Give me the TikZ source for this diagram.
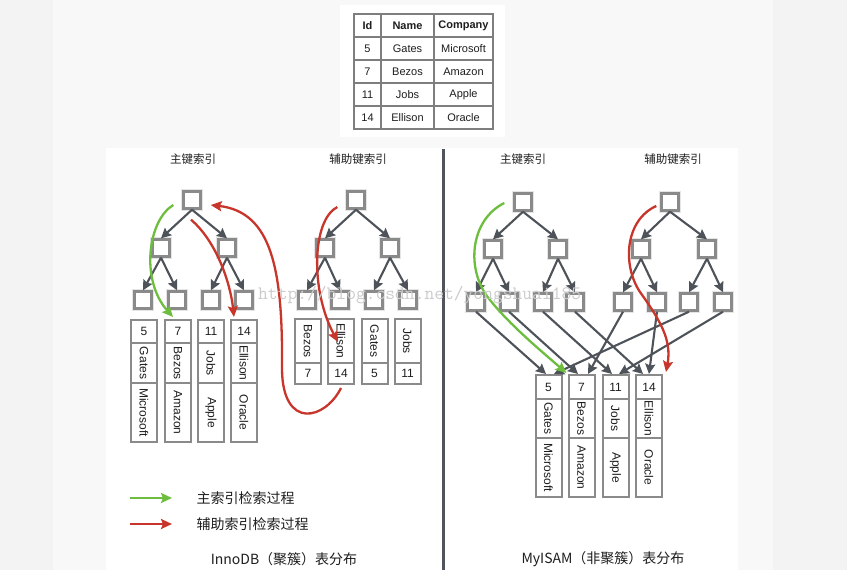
\documentclass[tikz,border=0pt]{standalone}
\usepackage{fontspec}
\setmainfont{Liberation Sans}
\newfontfamily\cjk{Noto Sans CJK SC}
\usetikzlibrary{arrows.meta,calc}
\definecolor{boxgray}{HTML}{8A8A8A}
\definecolor{tabgray}{HTML}{7E7E7E}
\definecolor{arrgray}{HTML}{4E535A}
\definecolor{mygreen}{HTML}{6DBE3E}
\definecolor{myred}{HTML}{C8362B}
\definecolor{txtc}{HTML}{1E1E1E}
\definecolor{bgA}{HTML}{F3F3F3}
\definecolor{bgB}{HTML}{F8F8F8}
\definecolor{divc}{HTML}{50555C}
\begin{document}
\begin{tikzpicture}[x=1pt,y=-1pt,
  tnode/.style={draw=boxgray,line width=2.4pt,fill=white,minimum size=17pt,inner sep=0pt,preaction={draw=black!10,line width=5pt}},
  tarrow/.style={draw=arrgray,line width=2.1pt,-{Stealth[length=10pt,width=10pt,inset=1.5pt]}},
  rcell/.style={draw=boxgray,line width=2pt,fill=white,inner sep=0pt,minimum width=26pt,text=txtc,font=\fontsize{12}{14}\selectfont},
  tcell/.style={draw=tabgray,line width=2pt,inner sep=0pt,minimum height=23pt,text=txtc,font=\fontsize{11}{13}\selectfont},
  garrow/.style={draw=mygreen,line width=2.3pt,-{Stealth[length=11pt,width=10pt,inset=2pt]}},
  rarrow/.style={draw=myred,line width=2.3pt,-{Stealth[length=11pt,width=10pt,inset=2pt]}},
  ttl/.style={font=\cjk\fontsize{11.5}{13}\selectfont,text=txtc},
  captxt/.style={font=\cjk\fontsize{14}{16}\selectfont,text=txtc}
]
\useasboundingbox (0,0) rectangle (847,570);
% background
\fill[bgA] (0,0) rectangle (847,570);
\fill[bgB] (53,0) rectangle (773,570);
\fill[white] (106,148) rectangle (738,570);
\fill[white] (340,5) rectangle (505,137);
\draw[divc,line width=3pt] (443,149) -- (443,570);

% table
\node[tcell,minimum width=27pt,font=\bfseries\fontsize{11}{13}\selectfont] (th1) at (367.5,25.5) {Id};
\node[tcell,minimum width=53pt,font=\bfseries\fontsize{11}{13}\selectfont] (th2) at (407.5,25.5) {Name};
\node[tcell,minimum width=59pt,font=\bfseries\fontsize{11}{13}\selectfont] (th3) at (463.5,25.5) {Company};
\foreach \a/\b/\c [count=\i] in {5/Gates/Microsoft,7/Bezos/Amazon,11/Jobs/Apple,14/Ellison/Oracle}{
  \node[tcell,minimum width=27pt] (tid\i) at (367.5,25.5+23*\i) {\a};
  \node[tcell,minimum width=53pt] (tnm\i) at (407.5,25.5+23*\i) {\b};
  \node[tcell,minimum width=59pt] (tco\i) at (463.5,25.5+23*\i) {\c};
}

% titles
\node[ttl] (t1) at (193,159) {主键索引};
\node[ttl] (t2) at (358,159) {辅助键索引};
\node[ttl] (t3) at (523,159) {主键索引};
\node[ttl] (t4) at (673,159) {辅助键索引};

% trees
\foreach \p/\rx/\ry/\ax/\bx/\my/\la/\lb/\lc/\ld/\ly in {
  pa/192/200/161/227/248/143/177/211/244/300,
  pb/356/200/325/390/248/307/340/374/408/300,
  pc/523/202/493/558/249/476/509/543/575/302,
  pd/670/202/641/707/249/623/657/689/723/302}{
  \node[tnode] (\p0) at (\rx,\ry) {};
  \node[tnode] (\p1) at (\ax,\my) {};
  \node[tnode] (\p2) at (\bx,\my) {};
  \node[tnode] (\p3) at (\la,\ly) {};
  \node[tnode] (\p4) at (\lb,\ly) {};
  \node[tnode] (\p5) at (\lc,\ly) {};
  \node[tnode] (\p6) at (\ld,\ly) {};
  \draw[tarrow] (\p0.south) -- (\p1.north);
  \draw[tarrow] (\p0.south) -- (\p2.north);
  \draw[tarrow] (\p1.south) -- (\p3.north);
  \draw[tarrow] (\p1.south) -- (\p4.north);
  \draw[tarrow] (\p2.south) -- (\p5.north);
  \draw[tarrow] (\p2.south) -- (\p6.north);
}

% InnoDB primary records
\foreach \x/\a/\b/\c [count=\i] in {144/5/Gates/Microsoft,178/7/Bezos/Amazon,211/11/Jobs/Apple,244/14/Ellison/Oracle}{
  \node[rcell,minimum height=23pt] (rav\i) at (\x,331.5) {\a};
  \node[rcell,minimum height=40pt] (ran\i) at (\x,363) {\rotatebox{-90}{\b}};
  \node[rcell,minimum height=59pt] (rac\i) at (\x,412.5) {\rotatebox{-90}{\c}};
}
% InnoDB secondary records
\foreach \x/\b/\a [count=\i] in {308/Bezos/7,341/Ellison/14,374.5/Gates/5,407.5/Jobs/11}{
  \node[rcell,minimum height=44pt] (rbn\i) at (\x,341) {\rotatebox{-90}{\b}};
  \node[rcell,minimum height=21pt] (rbv\i) at (\x,373.5) {\a};
}
% MyISAM records
\foreach \x/\a/\b/\c [count=\i] in {548.5/5/Gates/Microsoft,581.5/7/Bezos/Amazon,615.5/11/Jobs/Apple,649/14/Ellison/Oracle}{
  \node[rcell,minimum height=24pt] (rcv\i) at (\x,387) {\a};
  \node[rcell,minimum height=39pt] (rcn\i) at (\x,418.5) {\rotatebox{-90}{\b}};
  \node[rcell,minimum height=59pt] (rcc\i) at (\x,467.5) {\rotatebox{-90}{\c}};
}

% MyISAM leaf -> record pointers
\draw[tarrow] (pc3.south) -- ($(rcv1.north)+(-2.5,0)$);
\draw[tarrow] (pc4.south) -- ($(rcv2.north)+(-3.5,0)$);
\draw[tarrow] (pc5.south) -- ($(rcv3.north)+(-3.5,0)$);
\draw[tarrow] (pc6.south) -- ($(rcv4.north)+(-6,0)$);
\draw[tarrow] (pd3.south) -- ($(rcv2.north)+(6.5,0)$);
\draw[tarrow] (pd4.south) -- ($(rcv4.north)+(0,0)$);
\draw[tarrow] (pd5.south) -- ($(rcv1.north)+(5.5,0)$);
\draw[tarrow] (pd6.south) -- ($(rcv3.north)+(3.5,0)$);

% search paths
\draw[garrow] ($(pa0.west)+(-9,5)$) .. controls (148,220) and (140,280) .. ($(rav2.north)+(-5,-2)$);
\draw[rarrow] ($(pa0.south)+(-1,10)$) .. controls (215,240) and (230,280) .. ($(rav4.north)+(-10,-2)$);
\draw[rarrow] ($(rbv2.south)+(0,3)$) .. controls (325,420) and (283,430) .. (282,370) .. controls (283,270) and (272,212) .. ($(pa0.east)+(9,5)$);
\draw[rarrow] ($(pb0.west)+(-9,7)$) .. controls (312,220) and (310,290) .. ($(rbn2.center)+(-3,1)$);
\draw[garrow] ($(pc0.west)+(-9,1)$) .. controls (470,220) and (465,270) .. (490,300) .. controls (510,325) and (540,350) .. ($(rcv2.north west)+(-1,-1)$);
\draw[rarrow] ($(pd0.west)+(-4,4)$) .. controls (625,220) and (622,265) .. (640,292) .. controls (660,320) and (672,340) .. ($(rcv4.north east)+(3,-2)$);

% legend
\node[captxt,anchor=west] (lg1) at (193,498) {主索引检索过程};
\node[captxt,anchor=west] (lg2) at (193,524) {辅助索引检索过程};
\draw[garrow] ($(lg1.west)+(-63,0)$) -- ($(lg1.west)+(-21,0)$);
\draw[rarrow] ($(lg2.west)+(-63,0)$) -- ($(lg2.west)+(-21,0)$);

% captions
\node[captxt] (c1) at (284,559) {InnoDB（聚簇）表分布};
\node[captxt] (c2) at (603,559) {MyISAM（非聚簇）表分布};

% watermark
\node[anchor=base west,text=black!20,font=\ttfamily\fontsize{19}{20}\selectfont,inner sep=0pt] (wm) at (258,299) {http://blog.csdn.net/yongshuai185};
\end{tikzpicture}
\end{document}
